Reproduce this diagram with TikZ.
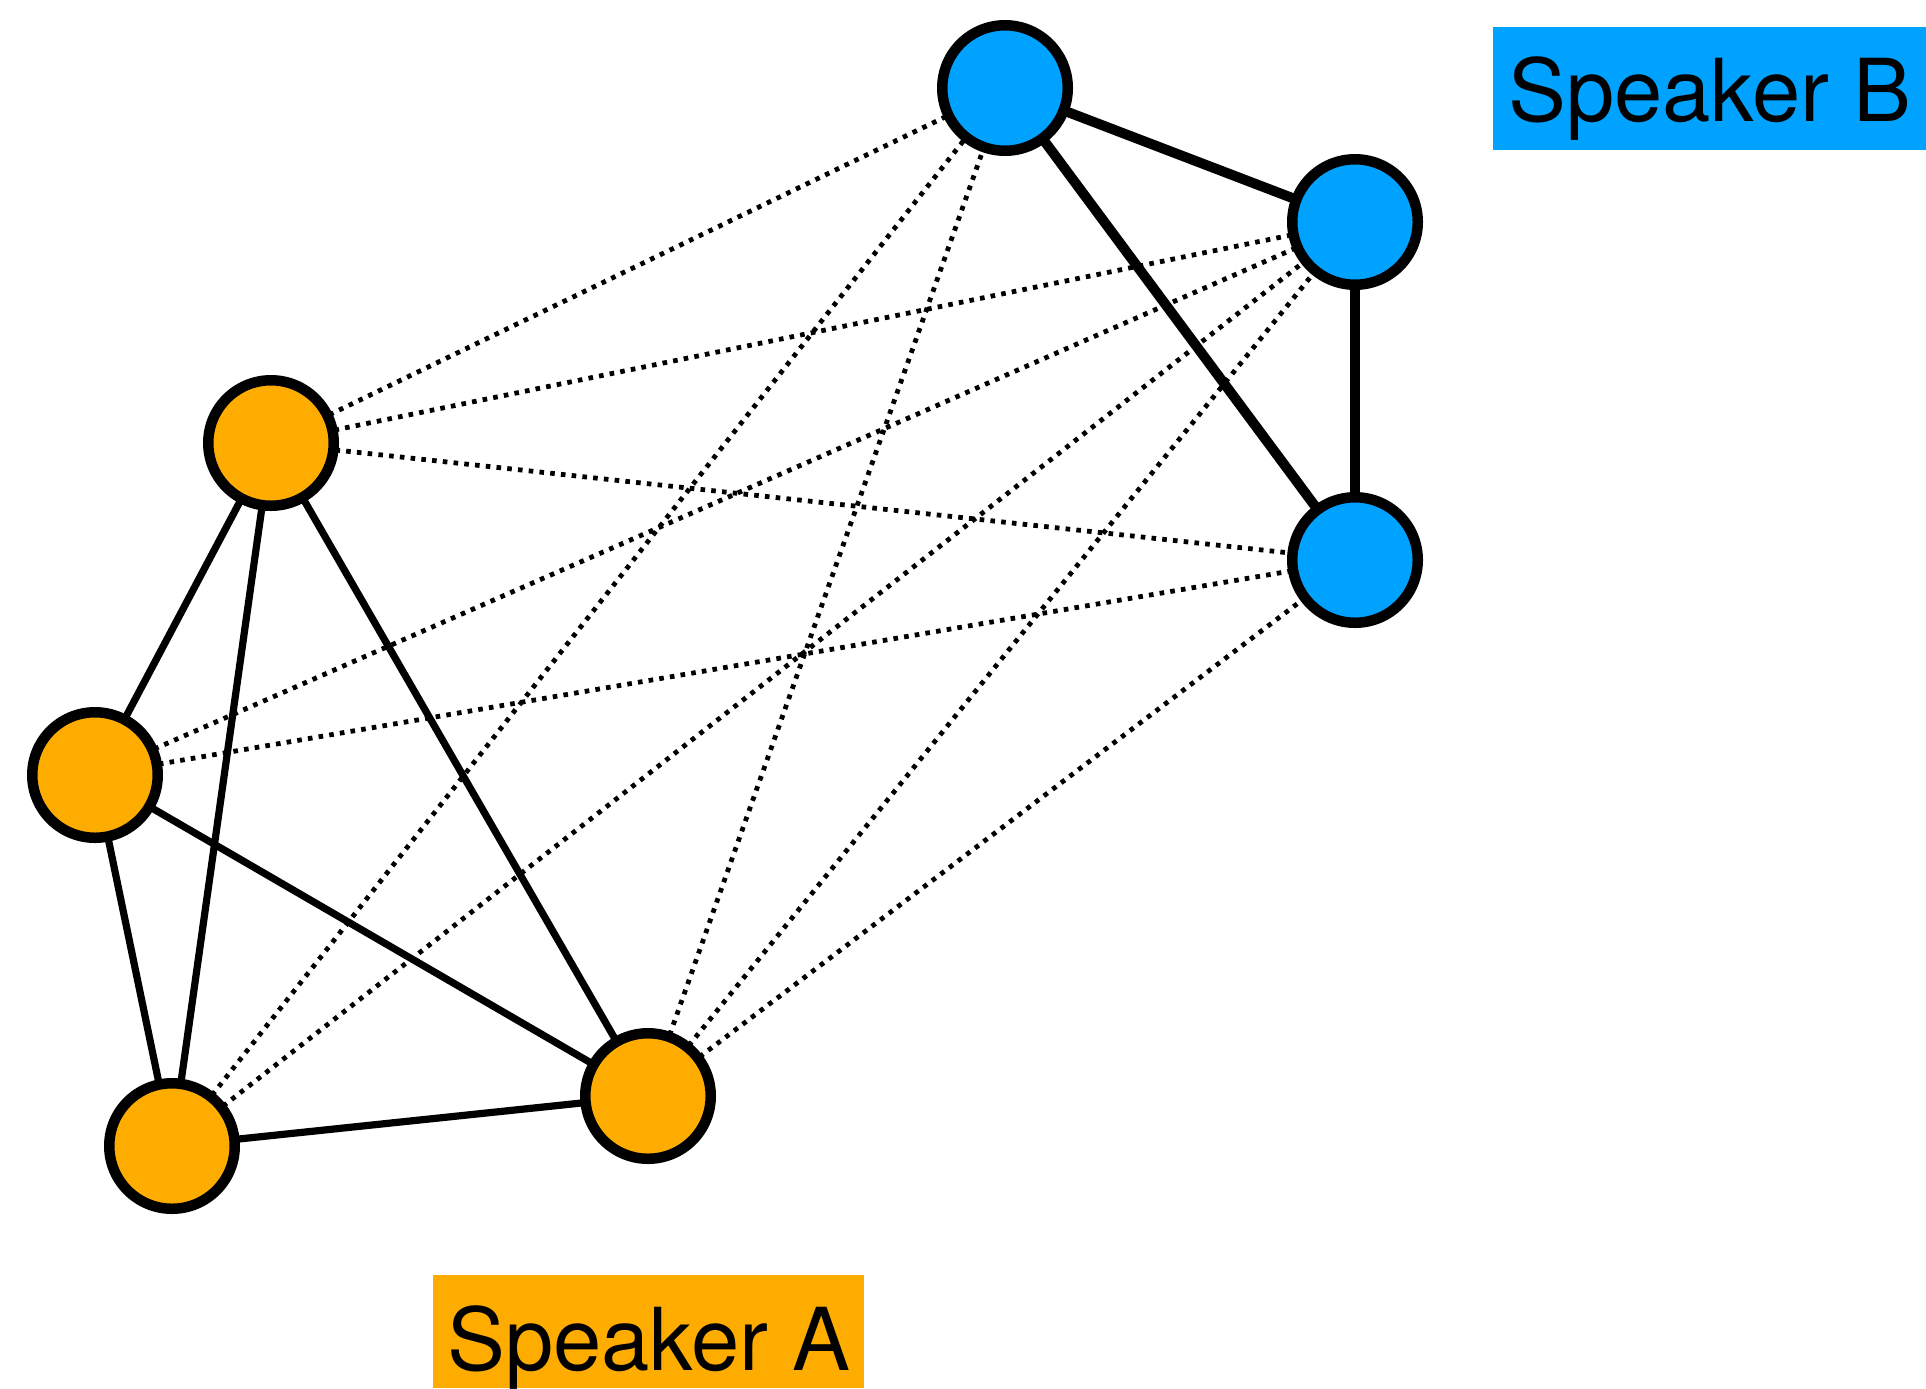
\documentclass[tikz,border=0pt]{standalone}
\usepackage{fontspec}
\setmainfont{TeX Gyre Heros}
\usetikzlibrary{backgrounds}
\definecolor{spkA}{RGB}{254,172,0}
\definecolor{spkB}{RGB}{0,162,255}
\tikzset{
  vtx/.style={circle, draw=black, line width=5.25pt, minimum size=62.75pt, inner sep=0pt},
  vA/.style={vtx, fill=spkA},
  vB/.style={vtx, fill=spkB},
  linkA/.style={line width=3.6pt},
  linkB/.style={line width=5pt},
  cross/.style={line width=2.4pt, dash pattern=on 2.3pt off 3.1pt},
  tag/.style={anchor=north west, inner xsep=0pt, inner ysep=0pt,
    font=\fontsize{43.4}{50}\selectfont, text=black}
}
\begin{document}
\begin{tikzpicture}[x=0.5pt, y=-0.5pt]
  \useasboundingbox (0,0) rectangle (1926,1388);

  % speaker A vertices
  \node[vA] (a1) at (271,443) {};
  \node[vA] (a2) at (95,775) {};
  \node[vA] (a3) at (172,1146) {};
  \node[vA] (a4) at (648,1096) {};
  % speaker B vertices
  \node[vB] (b1) at (1005,88) {};
  \node[vB] (b2) at (1355,222) {};
  \node[vB] (b3) at (1355,560) {};

  \begin{scope}[on background layer]
    % within speaker A
    \foreach \u/\v in {a1/a2, a1/a3, a1/a4, a2/a3, a2/a4, a3/a4}
      \draw[linkA] (\u.center) -- (\v.center);
    % within speaker B
    \foreach \u/\v in {b1/b2, b1/b3, b2/b3}
      \draw[linkB] (\u.center) -- (\v.center);
    % between speakers
    \foreach \u/\v in {a1/b1, a1/b2, a1/b3, a2/b2, a2/b3, a3/b1, a3/b2, a4/b1, a4/b2, a4/b3}
      \draw[cross] (\u.center) -- (\v.center);
  \end{scope}

  % speaker labels
  \node[tag, fill=spkB, minimum width=216.5pt, text height=47pt, text depth=14.5pt]
    (labB) at (1493,27) {Speaker B};
  \node[tag, fill=spkA, minimum width=215.5pt, text height=47.5pt, text depth=9pt]
    (labA) at (433,1275) {Speaker A};
\end{tikzpicture}
\end{document}
